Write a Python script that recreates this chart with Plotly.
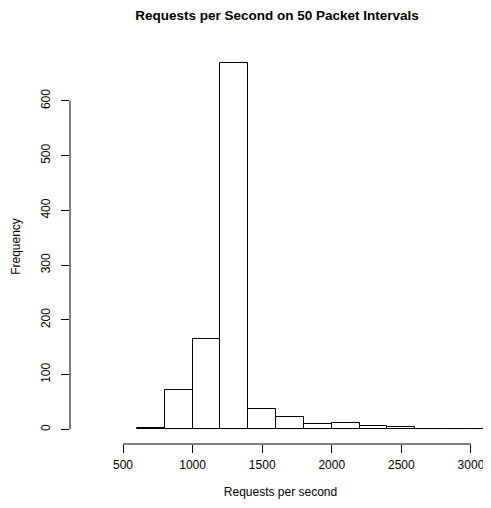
import plotly.graph_objects as go

bin_left = [600, 800, 1000, 1200, 1400, 1600, 1800, 2000, 2200, 2400, 2600, 2800, 3000]
bin_width = 200
counts = [2, 72, 165, 669, 38, 23, 9, 11, 7, 4, 1, 0, 1]
x_ticks = [500, 1000, 1500, 2000, 2500, 3000]
y_ticks = [0, 100, 200, 300, 400, 500, 600]

centers = [b + bin_width / 2 for b in bin_left]
font = "Liberation Sans, Arial, Helvetica, sans-serif"

# The page body adds an 8px offset; the figure is sized to fit the window.
W, H = 483, 492

fig = go.Figure()
fig.add_trace(go.Bar(
    x=centers, y=counts, width=[bin_width] * len(counts),
    marker=dict(color="white", line=dict(color="black", width=1)),
    showlegend=False, hoverinfo="x+y",
))

fig.update_layout(
    width=W, height=H,
    margin=dict(l=62, r=0, t=41, b=56, autoexpand=False),
    paper_bgcolor="white", plot_bgcolor="white",
    font=dict(family=font, size=12, color="black"),
    title=dict(text="<b>Requests per Second on 50 Packet Intervals</b>",
               x=269 / W, xanchor="center", y=1 - 7 / H, yanchor="middle",
               font=dict(size=13.5, family=font, color="black")),
    bargap=0,
)
fig.update_xaxes(
    range=[119, 3144], tickvals=x_ticks, ticktext=[str(v) for v in x_ticks],
    ticks="outside", ticklen=8, tickwidth=1, tickcolor="black", ticklabelstandoff=2,
    showline=False, showgrid=False, zeroline=False, automargin=False,
    title=dict(text="Requests per second", standoff=16, font=dict(size=12)),
)
fig.update_yaxes(
    range=[-26.7, 694.7], tickvals=y_ticks, ticktext=[str(v) for v in y_ticks],
    ticks="outside", ticklen=8, tickwidth=1, tickcolor="black", tickangle=-90,
    ticklabelstandoff=6,
    showline=False, showgrid=False, zeroline=False, automargin=False,
    title=dict(text="Frequency", standoff=16, font=dict(size=12)),
)
# axis lines spanning the first to last tick, as in base R
fig.add_shape(type="line", xref="x", yref="paper", x0=x_ticks[0], x1=x_ticks[-1], y0=0, y1=0,
              line=dict(color="black", width=1))
fig.add_shape(type="line", xref="paper", yref="y", x0=0, x1=0, y0=y_ticks[0], y1=y_ticks[-1],
              line=dict(color="black", width=1))

fig.write_html("out.html")
